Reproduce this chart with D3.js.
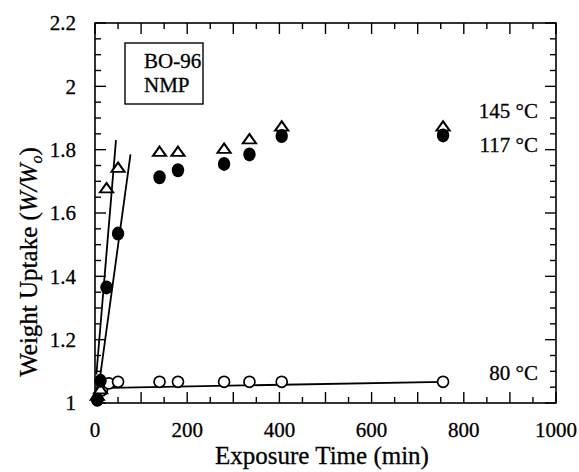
<!DOCTYPE html>
<html>
<head>
<meta charset="utf-8">
<script src="https://cdn.jsdelivr.net/npm/d3@7"></script>
<style>
  html, body { margin: 0; padding: 0; background: #fff; }
  svg { display: block; }
  svg text { font-family: "Liberation Serif", "Times New Roman", Times, "DejaVu Serif", serif; }
</style>
</head>
<body>
<svg id="chart" width="579" height="472"></svg>
<script>
// Exposure times (min) and weight uptake ratios W/Wo for each temperature
const time145 = [5, 12, 25, 50, 140, 180, 280, 335, 405, 755];
const uptake145 = [1.02, 1.04, 1.675, 1.74, 1.79, 1.79, 1.80, 1.83, 1.87, 1.87];

const time117 = [5, 12, 25, 50, 140, 180, 280, 335, 405, 755];
const uptake117 = [1.01, 1.07, 1.365, 1.535, 1.713, 1.735, 1.755, 1.785, 1.843, 1.845];

const time80 = [5, 15, 30, 50, 140, 180, 280, 335, 405, 755];
const uptake80 = [1.01, 1.04, 1.062, 1.067, 1.067, 1.067, 1.067, 1.067, 1.067, 1.067];

// Fitted lines: [start time, start uptake, end time, end uptake]
const fit145 = [3, 1.09, 45.5, 1.83];
const fit117 = [8, 1.05, 77, 1.785];
const fit80 = [5, 1.047, 755, 1.067];

const xTicks = [0, 200, 400, 600, 800, 1000];
const yTicks = [1, 1.2, 1.4, 1.6, 1.8, 2, 2.2];

const seriesLabels = ["145 °C", "117 °C", "80 °C"];
const boxLines = ["BO-96", "NMP"];

const svg = d3.select("#chart");
const m = { left: 95, top: 23, right: 556, bottom: 403 };
const serif = '"Liberation Serif", "Times New Roman", Times, serif';

const x = d3.scaleLinear().domain([0, 1000]).range([m.left, m.right]);
const y = d3.scaleLinear().domain([1, 2.2]).range([m.bottom, m.top]);

const ink = "#000";

// Frame
svg.append("rect")
  .attr("x", m.left).attr("y", m.top)
  .attr("width", m.right - m.left).attr("height", m.bottom - m.top)
  .attr("fill", "none").attr("stroke", ink).attr("stroke-width", 1.6);

// Inward ticks on all four sides
const xMinor = d3.range(0, 1001, 50);
const yMinor = d3.range(0, 25).map(i => +(1 + i * 0.05).toFixed(2));
const tickG = svg.append("g").attr("stroke", ink).attr("stroke-width", 1.4);

xMinor.forEach(v => {
  const len = v % 100 === 0 ? 11 : 6;
  tickG.append("line").attr("x1", x(v)).attr("x2", x(v)).attr("y1", m.bottom).attr("y2", m.bottom - len);
  tickG.append("line").attr("x1", x(v)).attr("x2", x(v)).attr("y1", m.top).attr("y2", m.top + len);
});
yMinor.forEach(v => {
  const major = yTicks.some(t => Math.abs(t - v) < 1e-6);
  const len = major ? 11 : 6;
  tickG.append("line").attr("x1", m.left).attr("x2", m.left + len).attr("y1", y(v)).attr("y2", y(v));
  tickG.append("line").attr("x1", m.right).attr("x2", m.right - len).attr("y1", y(v)).attr("y2", y(v));
});

// Text is slightly heavy, like a printed figure
const heavy = sel => sel.attr("stroke", ink).attr("stroke-width", 0.3);

// Tick labels
svg.append("g").call(heavy).selectAll("text").data(xTicks).join("text")
  .attr("x", d => x(d)).attr("y", 437)
  .attr("text-anchor", "middle").attr("font-size", 21).attr("font-family", serif)
  .text(d => d3.format("d")(d));

svg.append("g").call(heavy).selectAll("text").data(yTicks).join("text")
  .attr("x", 76).attr("y", d => y(d)).attr("dy", "0.35em")
  .attr("text-anchor", "end").attr("font-size", 21).attr("font-family", serif)
  .text(d => d3.format("~g")(d));

// Axis titles
svg.append("text").call(heavy)
  .attr("x", 322).attr("y", 464)
  .attr("text-anchor", "middle").attr("font-size", 25).attr("font-family", serif)
  .text("Exposure Time (min)");

const yt = svg.append("text").call(heavy)
  .attr("transform", `translate(37, 262) rotate(-90)`)
  .attr("text-anchor", "middle").attr("font-size", 25).attr("font-family", serif);
yt.append("tspan").text("Weight Uptake (");
yt.append("tspan").attr("font-style", "italic").text("W/W");
yt.append("tspan").attr("font-style", "italic").attr("font-size", 16).attr("dy", 5).text("o");
yt.append("tspan").attr("dy", -5).text(")");

// Fit lines
const lineG = svg.append("g").attr("stroke", ink).attr("stroke-width", 1.8);
[fit145, fit117, fit80].forEach(f => {
  lineG.append("line")
    .attr("x1", x(f[0])).attr("y1", y(f[1]))
    .attr("x2", x(f[2])).attr("y2", y(f[3]));
});

// Markers
const pts = (t, w) => t.map((v, i) => ({ t: v, w: w[i] }));

svg.append("g").selectAll("circle").data(pts(time80, uptake80)).join("circle")
  .attr("cx", d => x(d.t)).attr("cy", d => y(d.w)).attr("r", 5.5)
  .attr("fill", "#fff").attr("stroke", ink).attr("stroke-width", 1.7);

const tri = d3.symbol().type(d3.symbolTriangle).size(62);
svg.append("g").selectAll("path").data(pts(time145, uptake145)).join("path")
  .attr("d", tri)
  .attr("transform", d => `translate(${x(d.t)},${y(d.w)}) scale(1.1,0.9)`)
  .attr("fill", "#fff").attr("stroke", ink).attr("stroke-width", 2);

svg.append("g").selectAll("ellipse").data(pts(time117, uptake117)).join("ellipse")
  .attr("cx", d => x(d.t)).attr("cy", d => y(d.w)).attr("rx", 6.2).attr("ry", 7)
  .attr("fill", ink);

// Series labels
const labelY = [118, 152, 380];
svg.append("g").call(heavy).selectAll("text").data(seriesLabels).join("text")
  .attr("x", 538).attr("y", (d, i) => labelY[i])
  .attr("text-anchor", "end").attr("font-size", 21).attr("font-family", serif)
  .text(d => d);

// Sample box
svg.append("rect")
  .attr("x", 125).attr("y", 43).attr("width", 78).attr("height", 61)
  .attr("fill", "#fff").attr("stroke", ink).attr("stroke-width", 1.4);
svg.append("g").call(heavy).selectAll("text").data(boxLines).join("text")
  .attr("x", 144).attr("y", (d, i) => 68 + i * 24)
  .attr("font-size", 21).attr("font-family", serif)
  .text(d => d);
</script>
</body>
</html>
